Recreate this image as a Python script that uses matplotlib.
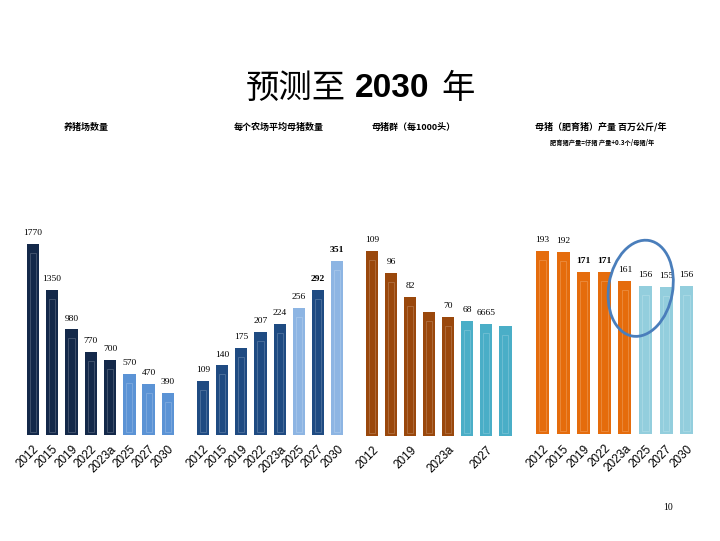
import matplotlib.pyplot as plt
from matplotlib.patches import Ellipse, Rectangle

plt.rcParams['font.family'] = ['Liberation Sans', 'Noto Sans CJK SC', 'DejaVu Sans']

# data
years = ['2012', '2015', '2019', '2022', '2023a', '2025', '2027', '2030']

farms = [1770, 1350, 980, 770, 700, 570, 470, 390]
farms_labels = ['1770', '1350', '980', '770', '700', '570', '470', '390']

sows_per_farm = [109, 140, 175, 207, 224, 256, 292, 351]
sows_per_farm_labels = ['109', '140', '175', '207', '224', '256', '292', '351']

sow_herd = [109, 96, 82, 73, 70, 68, 66, 65]
sow_herd_labels = ['109', '96', '82', '', '70', '68', '6665', '']
sow_herd_ticks = ['2012', '', '2019', '', '2023a', '', '2027', '']

output = [193, 192, 171, 171, 161, 156, 155, 156]
output_labels = ['193', '192', '171', '171', '161', '156', '155', '156']

titles = ['养猪场数量', '每个农场平均母猪数量', '母猪群（每1000头）', '母猪（肥育猪）产量 百万公斤/年']

W, H = 720, 541
fig = plt.figure(figsize=(W / 100, H / 100), dpi=100)

# panel setup: (values, labels, ticks, colors, bold labels, left px, spacing px, baseline px, px per unit)
panels = [
    (farms, farms_labels, years,
     ['#14294a'] * 5 + ['#5b93d5'] * 3, [], 23.2, 19.3, 435, 0.1077),
    (sows_per_farm, sows_per_farm_labels, years,
     ['#1f4b82'] * 5 + ['#8db5e3', '#1f4b82', '#8db5e3'], [6, 7], 193.4, 19.17, 435, 0.4966),
    (sow_herd, sow_herd_labels, sow_herd_ticks,
     ['#9a480c'] * 5 + ['#4aaec7'] * 3, [], 362.7, 19.03, 435.7, 1.694),
    (output, output_labels, years,
     ['#e56c0c'] * 5 + ['#93cedd'] * 3, [2, 3], 532.2, 20.6, 434.3, 0.95),
]

axes = []
for vals, labs, ticks, cols, bold, left, sp, base, scale in panels:
    h_px = 200
    ax = fig.add_axes([left / W, (H - base) / H, 8 * sp / W, h_px / H])
    x = list(range(len(vals)))
    bw = 0.64
    ax.bar(x, vals, width=bw, color=cols, edgecolor='none')
    # faint lighter inner frame on each bar
    for xi, v in zip(x, vals):
        ax.add_patch(Rectangle((xi - bw * 0.25, 3 / scale), bw * 0.5, v - 12 / scale,
                               fill=False, edgecolor='white', lw=0.6, alpha=0.22))
    for i, (xi, v, t) in enumerate(zip(x, vals, labs)):
        ax.annotate(t, (xi, v), xytext=(0, 5), textcoords='offset points',
                    ha='center', va='bottom', fontsize=6.8,
                    family='Liberation Serif',
                    fontweight='bold' if i in bold else 'normal')
    ax.set_xlim(-0.5, 7.5)
    ax.set_ylim(0, h_px / scale)
    ax.set_xticks(x)
    ax.set_xticklabels(ticks, rotation=45, ha='right', rotation_mode='anchor',
                       fontsize=8.5)
    ax.tick_params(length=0, pad=6, left=False, labelleft=False)
    for s in ax.spines.values():
        s.set_visible(False)
    ax.patch.set_alpha(0)
    axes.append(ax)

# title in three pieces: CJK regular, year bold
ty = 1 - 88 / H
fig.text(246 / W, ty, '预测至', ha='left', va='center', fontsize=24,
         family=['Noto Sans CJK SC'])
fig.text(355 / W, ty, '2030', ha='left', va='center', fontsize=24,
         family='Liberation Sans', fontweight='bold')
fig.text(441 / W, ty, '年', ha='left', va='center', fontsize=24,
         family=['Noto Sans CJK SC'])

title_x = [86, 278.5, 414, 601]
for tx, t in zip(title_x, titles):
    fig.text(tx / W, 1 - 127 / H, t, ha='center', va='center', fontsize=6.5,
             family=['Noto Sans CJK SC'], fontweight='bold')
fig.text(602.5 / W, 1 - 142 / H, '肥育猪产量=仔猪 产量+0.3个/母猪/年', ha='center',
         va='center', fontsize=4.5, family=['Noto Sans CJK SC'], fontweight='bold')

fig.text(668 / W, 1 - 508 / H, '10', ha='center', va='center', fontsize=7,
         family='Liberation Serif')

fig.patches.append(Ellipse((6.407, (H - 288.3) / 100), 0.64, 0.97, angle=-10,
                           fill=False, edgecolor='#4a7ebb', lw=2,
                           transform=fig.dpi_scale_trans, figure=fig))

fig.savefig('out.png', dpi=100)
